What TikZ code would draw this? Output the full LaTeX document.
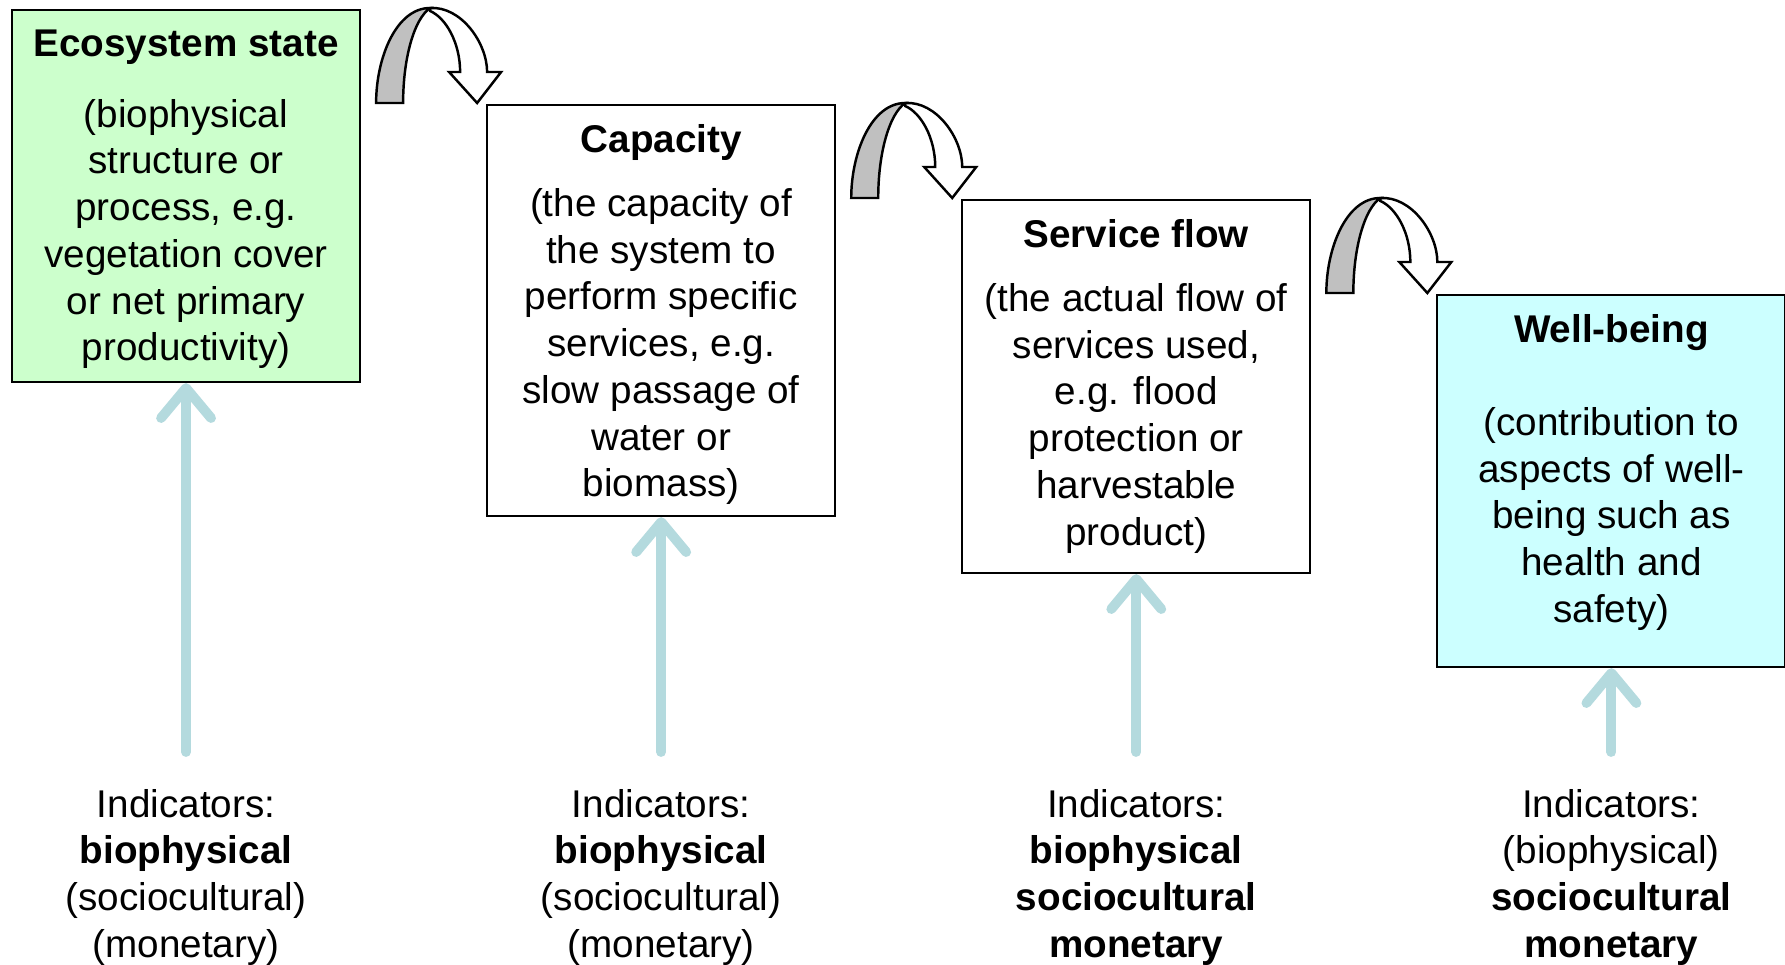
\documentclass[tikz,border=0pt]{standalone}
\usepackage{fontspec}
\setmainfont{Liberation Sans}
\usepackage{tikz}
\usetikzlibrary{arrows.meta,calc,positioning}
\tikzset{every node/.append style={align=center}}
\definecolor{stategreen}{RGB}{204,255,204}
\definecolor{wellcyan}{RGB}{204,255,255}
\definecolor{indblue}{RGB}{180,218,222}
\definecolor{bandgray}{RGB}{192,192,192}
\tikzset{
  stage/.style={draw, line width=0.6pt, minimum width=3.48cm,
    minimum height=3.72cm, inner sep=0pt},
  stagetext/.style={inner sep=0pt},
  indtext/.style={anchor=north, inner sep=0pt},
  indarrow/.style={line width=2.8pt, indblue, line cap=round,
    -{Straight Barb[length=0.3cm, width=0.5cm, round]},
    shorten <=0.365cm},
}
% bent ribbon arrow, origin at the outer foot
\newcommand{\turnarrow}{%
  \draw[line width=0.7pt, fill=white]
    (0.54,0.95) .. controls (0.85,0.97) and (1.11,0.6) .. (1.11,0.31)
    -- (1.25,0.31) -- (1.01,0) -- (0.73,0.31) -- (0.84,0.31)
    .. controls (0.84,0.6) and (0.7,0.85) .. (0.54,0.92) -- cycle;
  \draw[line width=0.7pt, fill=bandgray]
    (0,0) .. controls (0,0.45) and (0.2,0.95) .. (0.54,0.95)
    .. controls (0.38,0.84) and (0.27,0.45) .. (0.27,0) -- cycle;
}

\begin{document}
\begin{tikzpicture}[font=\fontsize{11}{13.3}\selectfont]

  \useasboundingbox (0,0) rectangle (17.85,-9.64);

  % === Stage boxes ===
  \node[stage, fill=stategreen, anchor=north west] (eco) at (0.11,-0.09) {};
  \node[stage, minimum height=4.11cm,
    below right=0.95cm and 1.25cm of eco.north east] (cap) {};
  \node[stage, minimum height=3.73cm,
    below right=0.95cm and 1.25cm of cap.north east] (flow) {};
  \node[stage, fill=wellcyan,
    below right=0.95cm and 1.25cm of flow.north east] (well) {};

  % box texts, hung from the top edge
  \node[stagetext, below=0.2cm of eco.north] (ecotext)
    {\textbf{Ecosystem state}\\[0.24cm]
     (biophysical\\structure or\\process, e.g.\\vegetation cover\\
     or net primary\\productivity)};
  \node[stagetext, below=0.2cm of cap.north] (captext)
    {\textbf{Capacity}\\[0.17cm]
     (the capacity of\\the system to\\perform specific\\services, e.g.\\
     slow passage of\\water or\\biomass)};
  \node[stagetext, below=0.2cm of flow.north] (flowtext)
    {\textbf{Service flow}\\[0.17cm]
     (the actual flow of\\services used,\\e.g. flood\\protection or\\
     harvestable\\product)};
  \node[stagetext, below=0.2cm of well.north] (welltext)
    {\textbf{Well-being}\\[0.46cm]
     (contribution to\\aspects of well-\\being such as\\health and\\safety)};

  % === Bent arrows between stages ===
  \begin{scope}[shift={($(eco.north east)+(0.15,-0.94)$)}]
    \turnarrow
  \end{scope}
  \begin{scope}[shift={($(cap.north east)+(0.15,-0.94)$)}]
    \turnarrow
  \end{scope}
  \begin{scope}[shift={($(flow.north east)+(0.15,-0.94)$)}]
    \turnarrow
  \end{scope}

  % === Indicators ===
  \coordinate (indtop) at (0,-7.885);
  \node[indtext] (ind1) at (eco |- indtop)
    {Indicators:\\\textbf{biophysical}\\(sociocultural)\\(monetary)};
  \node[indtext] (ind2) at (cap |- indtop)
    {Indicators:\\\textbf{biophysical}\\(sociocultural)\\(monetary)};
  \node[indtext] (ind3) at (flow |- indtop)
    {Indicators:\\\textbf{biophysical}\\\textbf{sociocultural}\\\textbf{monetary}};
  \node[indtext] (ind4) at (well |- indtop)
    {Indicators:\\(biophysical)\\\textbf{sociocultural}\\\textbf{monetary}};

  \draw[indarrow] (ind1) -- (eco);
  \draw[indarrow] (ind2) -- (cap);
  \draw[indarrow] (ind3) -- (flow);
  \draw[indarrow] (ind4) -- (well);

\end{tikzpicture}
\end{document}
